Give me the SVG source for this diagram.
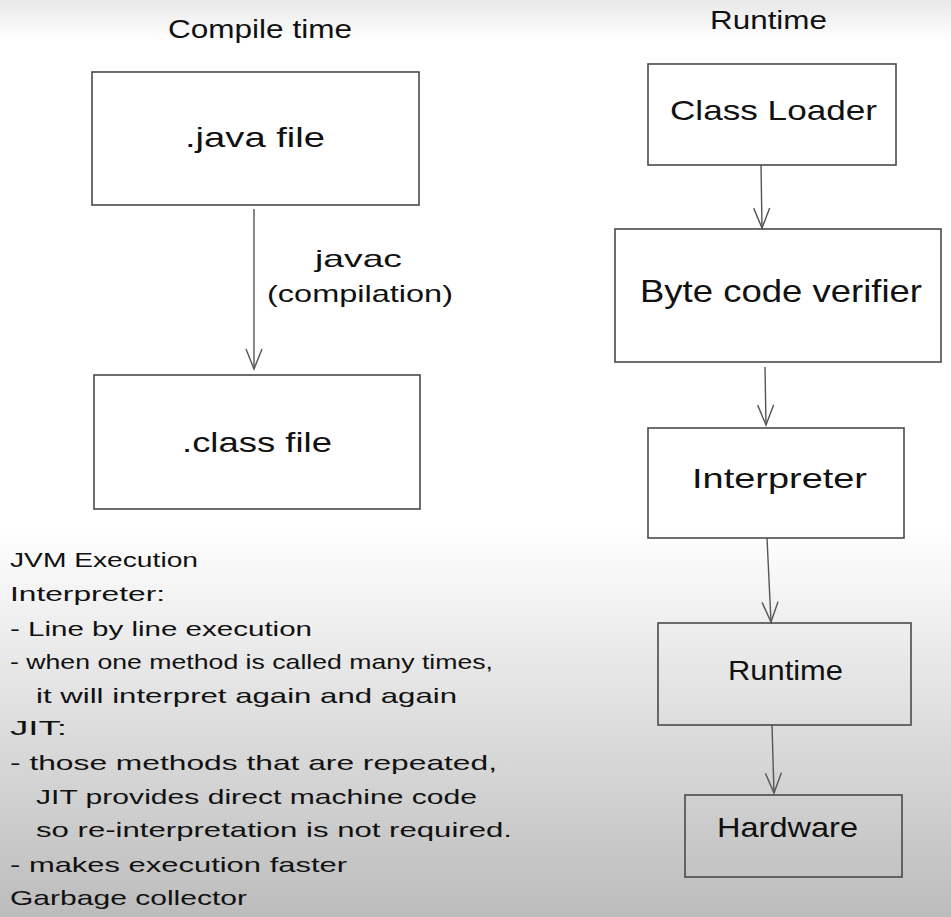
<svg xmlns="http://www.w3.org/2000/svg" width="951" height="917" viewBox="0 0 951 917">
  <defs>
    <linearGradient id="bg" x1="0" y1="0" x2="0" y2="917" gradientUnits="userSpaceOnUse">
      <stop offset="0" stop-color="#e8e8e8"/>
      <stop offset="0.045" stop-color="#ffffff"/>
      <stop offset="0.575" stop-color="#ffffff"/>
      <stop offset="1" stop-color="#bcbcbc"/>
    </linearGradient>
    <marker id="arrow" markerUnits="userSpaceOnUse" markerWidth="24" markerHeight="20" viewBox="-22 -10 24 20" refX="0" refY="0" orient="auto">
      <path d="M-20,-8 L0,0 L-20,8" fill="none" stroke="#555" stroke-width="1.4"/>
    </marker>
    <style>
      .box { fill: none; stroke: #4a4a4a; stroke-width: 1.6; }
      .edge { fill: none; stroke: #555; stroke-width: 1.4; marker-end: url(#arrow); }
      .lbl { font-family: "Liberation Sans", Arial, sans-serif; font-size: 28px; fill: #111; }
      .big { font-size: 32px; }
      .title { font-family: "Liberation Sans", Arial, sans-serif; font-size: 26px; fill: #111; }
      .note { font-family: "Liberation Sans", Arial, sans-serif; font-size: 21px; fill: #111; }
      .elabel { font-family: "Liberation Sans", Arial, sans-serif; font-size: 24px; fill: #111; }
    </style>
  </defs>
  <rect x="0" y="0" width="951" height="917" fill="url(#bg)"/>

  <g id="titles">
    <text class="title" x="168" y="38" textLength="184" lengthAdjust="spacingAndGlyphs">Compile time</text>
    <text class="title" x="710" y="29" textLength="117" lengthAdjust="spacingAndGlyphs">Runtime</text>
  </g>

  <g id="connectors">
    <path class="edge" d="M254,209 L254,369"/>
    <path class="edge" d="M761,165 L762,228"/>
    <path class="edge" d="M765,367 L766,425"/>
    <path class="edge" d="M767,538 L771,622"/>
    <path class="edge" d="M772,725 L774,793"/>
    <g id="edge-label">
      <text class="elabel" x="315" y="267" textLength="87" lengthAdjust="spacingAndGlyphs">javac</text>
      <text class="elabel" x="267" y="302" textLength="186" lengthAdjust="spacingAndGlyphs">(compilation)</text>
    </g>
  </g>

  <g id="java-file">
    <rect class="box" x="92" y="72" width="327" height="133"/>
    <text class="lbl" x="185" y="147" textLength="140" lengthAdjust="spacingAndGlyphs">.java file</text>
  </g>
  <g id="class-file">
    <rect class="box" x="94" y="375" width="326" height="134"/>
    <text class="lbl" x="182" y="452" textLength="150" lengthAdjust="spacingAndGlyphs">.class file</text>
  </g>
  <g id="class-loader">
    <rect class="box" x="648" y="64" width="248" height="101"/>
    <text class="lbl" x="670" y="120" textLength="207" lengthAdjust="spacingAndGlyphs">Class Loader</text>
  </g>
  <g id="bytecode-verifier">
    <rect class="box" x="615" y="229" width="326" height="133"/>
    <text class="lbl big" x="640" y="302" textLength="282" lengthAdjust="spacingAndGlyphs">Byte code verifier</text>
  </g>
  <g id="interpreter">
    <rect class="box" x="648" y="428" width="256" height="110"/>
    <text class="lbl" x="692" y="488" textLength="175" lengthAdjust="spacingAndGlyphs">Interpreter</text>
  </g>
  <g id="runtime">
    <rect class="box" x="658" y="623" width="253" height="102"/>
    <text class="lbl" x="728" y="680" textLength="115" lengthAdjust="spacingAndGlyphs">Runtime</text>
  </g>
  <g id="hardware">
    <rect class="box" x="685" y="795" width="217" height="82"/>
    <text class="lbl" x="717" y="837" textLength="141" lengthAdjust="spacingAndGlyphs">Hardware</text>
  </g>

  <g id="notes">
    <text class="note" x="10" y="567" textLength="188" lengthAdjust="spacingAndGlyphs">JVM Execution</text>
    <text class="note" x="10" y="601" textLength="155" lengthAdjust="spacingAndGlyphs">Interpreter:</text>
    <text class="note" x="10" y="636" textLength="302" lengthAdjust="spacingAndGlyphs">- Line by line execution</text>
    <text class="note" x="10" y="669" textLength="483" lengthAdjust="spacingAndGlyphs">- when one method is called many times,</text>
    <text class="note" x="36" y="703" textLength="421" lengthAdjust="spacingAndGlyphs">it will interpret again and again</text>
    <text class="note" x="10" y="735" textLength="57" lengthAdjust="spacingAndGlyphs">JIT:</text>
    <text class="note" x="10" y="770" textLength="487" lengthAdjust="spacingAndGlyphs">- those methods that are repeated,</text>
    <text class="note" x="36" y="804" textLength="441" lengthAdjust="spacingAndGlyphs">JIT provides direct machine code</text>
    <text class="note" x="36" y="837" textLength="476" lengthAdjust="spacingAndGlyphs">so re-interpretation is not required.</text>
    <text class="note" x="10" y="872" textLength="337" lengthAdjust="spacingAndGlyphs">- makes execution faster</text>
    <text class="note" x="10" y="905" textLength="237" lengthAdjust="spacingAndGlyphs">Garbage collector</text>
  </g>
</svg>
